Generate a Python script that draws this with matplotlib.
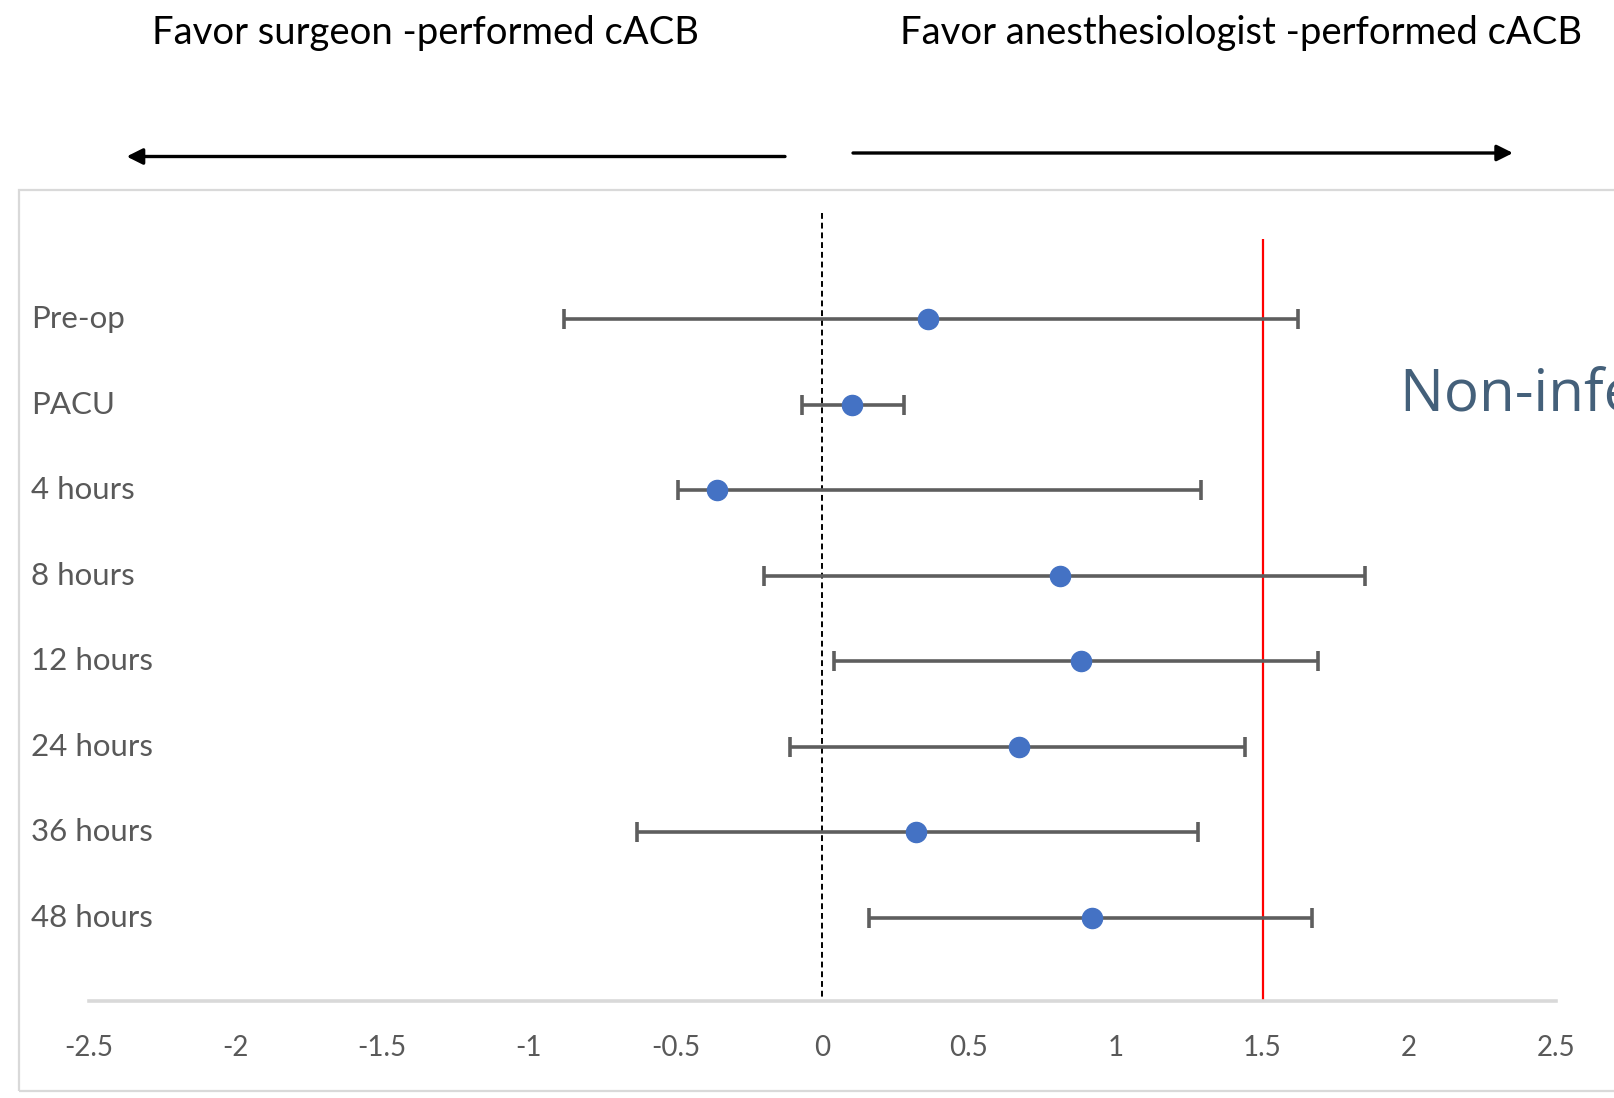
import matplotlib
matplotlib.use('Agg')
import matplotlib.pyplot as plt
import matplotlib.patches as patches
import matplotlib.transforms as mtrans

# --- data ---
categories = ['Pre-op', 'PACU', '4 hours', '8 hours', '12 hours', '24 hours', '36 hours', '48 hours']
estimate = [0.36, 0.10, -0.36, 0.81, 0.88, 0.67, 0.32, 0.92]
ci_lower = [-0.88, -0.07, -0.49, -0.20, 0.04, -0.11, -0.63, 0.16]
ci_upper = [1.62, 0.28, 1.29, 1.85, 1.69, 1.44, 1.28, 1.67]
xticks = [-2.5, -2, -1.5, -1, -0.5, 0, 0.5, 1, 1.5, 2, 2.5]
margin = 1.5

W, H = 1614, 1098
fig = plt.figure(figsize=(W / 100, H / 100), dpi=100)
plt.rcParams['font.family'] = ['Lato', 'DejaVu Sans']

# frame around plot area (runs off the right edge)
fig.patches.append(patches.Rectangle((18.5 / W, 1 - 1091 / H), 1.2, (1091 - 190) / H,
                                     transform=fig.transFigure, fill=False,
                                     edgecolor='#D9D9D9', linewidth=1.6))

ax = fig.add_axes([88.5 / W, 1 - 1000.5 / H, (1556 - 88.5) / W, (1000.5 - 213) / H])
ax.set_facecolor('none')
ytop, ybot = -1.24, 7.97
ys = list(range(len(categories)))

ax.errorbar(estimate, ys,
            xerr=[[e - l for e, l in zip(estimate, ci_lower)],
                  [u - e for e, u in zip(estimate, ci_upper)]],
            fmt='o', color='#4472C4', markersize=14.5, ecolor='#5E5E5E',
            elinewidth=2.6, capsize=7, capthick=2.6, zorder=3)

ax.vlines(0, ytop, ybot, colors='black', linestyles=(0, (3, 2)), linewidth=1.4, zorder=2)
ax.vlines(margin, -0.94, ybot, colors='#FF0000', linewidth=1.6, zorder=2)

ax.set_xlim(-2.5, 2.5)
ax.set_ylim(ybot, ytop)
ax.set_yticks([])
ax.set_xticks(xticks)
ax.set_xticklabels([f'{t:g}' for t in xticks])
for s in ['top', 'left', 'right']:
    ax.spines[s].set_visible(False)
ax.spines['bottom'].set_color('#D9D9D9')
ax.spines['bottom'].set_linewidth(2.6)
ax.tick_params(axis='x', length=0, pad=25, labelsize=20, labelcolor='#595959')

# category labels
trans = mtrans.blended_transform_factory(fig.transFigure, ax.transData)
for y, c in zip(ys, categories):
    ax.text(31 / W, y, c, transform=trans, ha='left', va='center',
            fontsize=22.5, color='#595959', clip_on=False)

# headers and arrows
fig.text(425 / W, 1 - 33 / H, 'Favor surgeon -performed cACB', ha='center', va='center',
         fontsize=27.5, color='black')
fig.text(1241 / W, 1 - 33 / H, 'Favor anesthesiologist -performed cACB', ha='center', va='center',
         fontsize=27.5, color='black')
arrow_kw = dict(arrowstyle='-|>', color='black', lw=2.4, mutation_scale=24, shrinkA=0, shrinkB=0)
fig.patches.append(patches.FancyArrowPatch((785 / W, 1 - 156.5 / H), (126.6 / W, 1 - 156.5 / H),
                                           transform=fig.transFigure, **arrow_kw))
fig.patches.append(patches.FancyArrowPatch((853 / W, 1 - 153 / H), (1513 / W, 1 - 153 / H),
                                           transform=fig.transFigure, **arrow_kw))

# annotation that runs off the right edge, as in the reference
fig.text(1400 / W, 1 - 396 / H, 'Non-inferiority margin', ha='left', va='center',
         fontsize=42, color='#44607A', family=['Open Sans', 'DejaVu Sans'])

fig.savefig('out.png', dpi=100)
